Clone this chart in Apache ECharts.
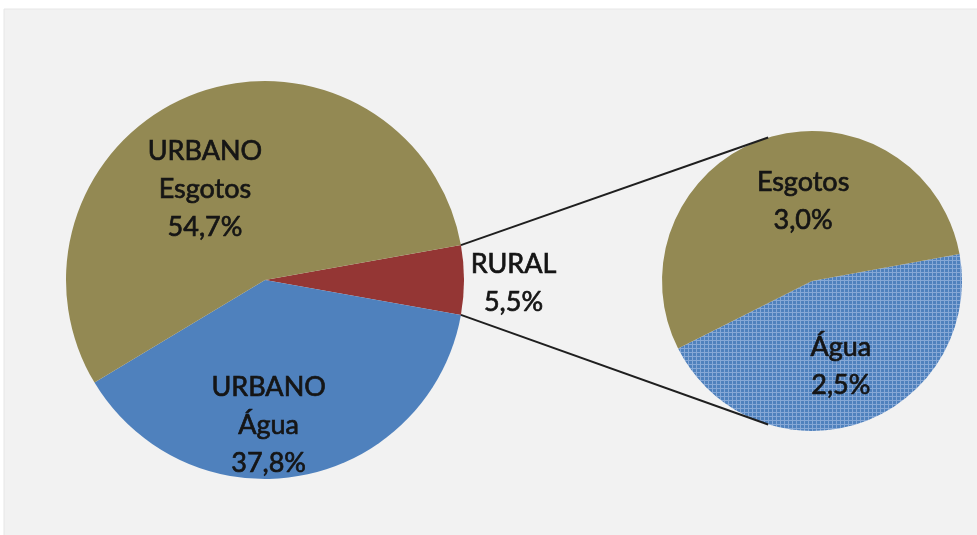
<!DOCTYPE html>
<html><head><meta charset="utf-8">
<script src="https://cdn.jsdelivr.net/npm/echarts@6/dist/echarts.min.js"></script>
<style>html,body{margin:0;padding:0;background:#fff}#c{width:977px;height:535px}</style>
</head><body><div id="c"></div>
<script>
// Main pie (left)
const mainCategories = ['RURAL', 'URBANO\nÁgua', 'URBANO\nEsgotos'];
const mainValues = [5.5, 37.8, 54.7];
// Breakdown of RURAL (right pie)
const ruralCategories = ['Água', 'Esgotos'];
const ruralValues = [2.5, 3.0];

const OLIVE = '#938953', BLUE = '#4f81bd', RED = '#943634';

// hatched pattern for the small pie water slice
const tile = document.createElement('canvas');
tile.width = 4; tile.height = 4;
const tc = tile.getContext('2d');
tc.fillStyle = '#4f81bd'; tc.fillRect(0, 0, 4, 4);
tc.fillStyle = '#86a8d6'; tc.fillRect(0, 0, 4, 1); tc.fillRect(0, 0, 1, 4);

const L = { cx: 265, cy: 280, r: 199 };
const R = { cx: 812, cy: 281, r: 150 };

const sumMain = mainValues.reduce((a, b) => a + b, 0);
const halfRural = mainValues[0] / sumMain * 180;
const sumRural = ruralValues.reduce((a, b) => a + b, 0);
const waterMid = -71.4;
const rightStart = waterMid + ruralValues[0] / sumRural * 180;

const fmt = v => v.toFixed(1).replace('.', ',') + '%';

const labelStyle = {
  color: '#151515', fontFamily: 'Lato', fontSize: 27, lineHeight: 38, align: 'center',
  textBorderColor: '#151515', textBorderWidth: 0.7
};

const mainColors = [RED, BLUE, OLIVE];
const mainOffsets = [{ dx: 146, dy: 3 }, { dx: -15, dy: 45 }, { dx: -24, dy: 5 }];
const ruralColors = [{ image: tile, repeat: 'repeat' }, OLIVE];
const ruralOffsets = [{ dx: 4, dy: 11 }, { dx: 16, dy: -6 }];

const rad = d => d * Math.PI / 180;
const lp = (c, a) => [c.cx + c.r * Math.cos(rad(a)), c.cy - c.r * Math.sin(rad(a))];
const connectorAngle = 107;

const chart = echarts.init(document.getElementById('c'), null, { renderer: 'canvas' });
chart.setOption({
  animation: false,
  backgroundColor: '#ffffff',
  graphic: [
    { type: 'rect', z: -10, shape: { x: 4, y: 9, width: 1000, height: 600 },
      style: { fill: '#f2f2f2', stroke: '#e6e6e6', lineWidth: 1 } },
    { type: 'line', z: 10, shape: { x1: lp(L, halfRural)[0], y1: lp(L, halfRural)[1], x2: lp(R, connectorAngle)[0], y2: lp(R, connectorAngle)[1] },
      style: { stroke: '#1f1f1f', lineWidth: 2 } },
    { type: 'line', z: 10, shape: { x1: lp(L, -halfRural)[0], y1: lp(L, -halfRural)[1], x2: lp(R, -connectorAngle)[0], y2: lp(R, -connectorAngle)[1] },
      style: { stroke: '#1f1f1f', lineWidth: 2 } }
  ],
  series: [
    {
      type: 'pie', center: [L.cx, L.cy], radius: L.r, startAngle: halfRural, clockwise: true,
      silent: true, avoidLabelOverlap: false,
      label: Object.assign({ position: 'inside', formatter: p => p.name + '\n' + fmt(p.value) }, labelStyle),
      labelLine: { show: false },
      labelLayout: p => mainOffsets[p.dataIndex],
      itemStyle: { borderWidth: 0 },
      data: mainCategories.map((n, i) => ({ name: n, value: mainValues[i], itemStyle: { color: mainColors[i] } }))
    },
    {
      type: 'pie', center: [R.cx, R.cy], radius: R.r, startAngle: rightStart, clockwise: true,
      silent: true, avoidLabelOverlap: false,
      label: Object.assign({ position: 'inside', formatter: p => p.name + '\n' + fmt(p.value) }, labelStyle),
      labelLine: { show: false },
      labelLayout: p => ruralOffsets[p.dataIndex],
      itemStyle: { borderWidth: 0 },
      data: ruralCategories.map((n, i) => ({ name: n, value: ruralValues[i], itemStyle: { color: ruralColors[i] } }))
    }
  ]
});
</script></body></html>
